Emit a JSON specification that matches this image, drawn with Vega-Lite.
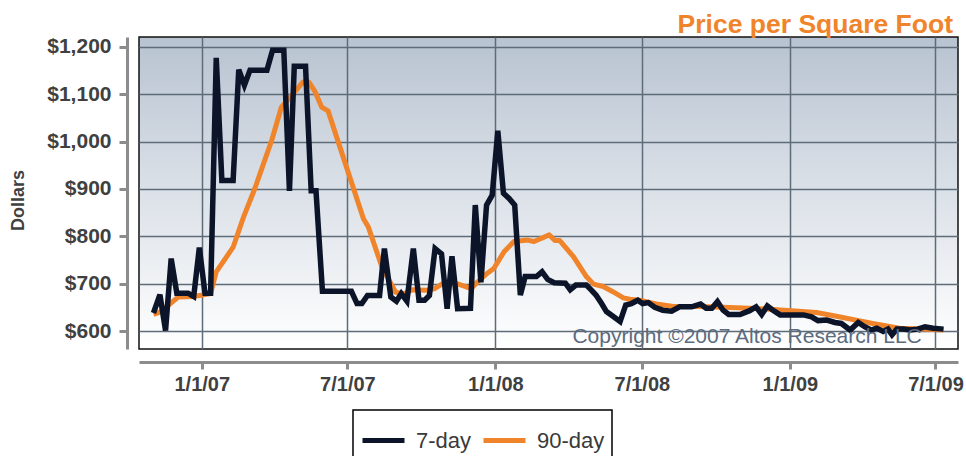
{
  "$schema": "https://vega.github.io/schema/vega-lite/v6.json",
  "width": 819,
  "height": 312,
  "autosize": {"type": "none"},
  "padding": {"left": 139, "top": 37, "right": 8, "bottom": 107},
  "background": "white",
  "title": {"text": "Price per Square Foot", "anchor": "end", "frame": "group", "color": "#f0842a", "font": "Liberation Sans", "fontSize": 26.5, "fontWeight": "bold", "baseline": "bottom", "offset": -30, "dx": -5},
  "data": {"values": [
    {"date": "2006-11-02", "price": 638, "series": "7-day"},
    {"date": "2006-11-10", "price": 677, "series": "7-day"},
    {"date": "2006-11-17", "price": 601, "series": "7-day"},
    {"date": "2006-11-24", "price": 753, "series": "7-day"},
    {"date": "2006-12-01", "price": 680, "series": "7-day"},
    {"date": "2006-12-15", "price": 680, "series": "7-day"},
    {"date": "2006-12-22", "price": 673, "series": "7-day"},
    {"date": "2006-12-29", "price": 776, "series": "7-day"},
    {"date": "2007-01-05", "price": 680, "series": "7-day"},
    {"date": "2007-01-12", "price": 680, "series": "7-day"},
    {"date": "2007-01-19", "price": 1177, "series": "7-day"},
    {"date": "2007-01-26", "price": 918, "series": "7-day"},
    {"date": "2007-02-09", "price": 918, "series": "7-day"},
    {"date": "2007-02-16", "price": 1152, "series": "7-day"},
    {"date": "2007-02-23", "price": 1119, "series": "7-day"},
    {"date": "2007-03-02", "price": 1151, "series": "7-day"},
    {"date": "2007-03-23", "price": 1151, "series": "7-day"},
    {"date": "2007-03-30", "price": 1193, "series": "7-day"},
    {"date": "2007-04-13", "price": 1193, "series": "7-day"},
    {"date": "2007-04-20", "price": 896, "series": "7-day"},
    {"date": "2007-04-26", "price": 1159, "series": "7-day"},
    {"date": "2007-05-10", "price": 1159, "series": "7-day"},
    {"date": "2007-05-17", "price": 896, "series": "7-day"},
    {"date": "2007-05-23", "price": 896, "series": "7-day"},
    {"date": "2007-05-31", "price": 684, "series": "7-day"},
    {"date": "2007-07-06", "price": 684, "series": "7-day"},
    {"date": "2007-07-13", "price": 658, "series": "7-day"},
    {"date": "2007-07-19", "price": 658, "series": "7-day"},
    {"date": "2007-07-26", "price": 675, "series": "7-day"},
    {"date": "2007-08-10", "price": 675, "series": "7-day"},
    {"date": "2007-08-16", "price": 774, "series": "7-day"},
    {"date": "2007-08-24", "price": 672, "series": "7-day"},
    {"date": "2007-08-31", "price": 663, "series": "7-day"},
    {"date": "2007-09-06", "price": 679, "series": "7-day"},
    {"date": "2007-09-13", "price": 663, "series": "7-day"},
    {"date": "2007-09-21", "price": 774, "series": "7-day"},
    {"date": "2007-09-28", "price": 665, "series": "7-day"},
    {"date": "2007-10-05", "price": 665, "series": "7-day"},
    {"date": "2007-10-11", "price": 675, "series": "7-day"},
    {"date": "2007-10-18", "price": 774, "series": "7-day"},
    {"date": "2007-10-26", "price": 763, "series": "7-day"},
    {"date": "2007-11-02", "price": 647, "series": "7-day"},
    {"date": "2007-11-08", "price": 758, "series": "7-day"},
    {"date": "2007-11-15", "price": 647, "series": "7-day"},
    {"date": "2007-12-01", "price": 648, "series": "7-day"},
    {"date": "2007-12-07", "price": 866, "series": "7-day"},
    {"date": "2007-12-14", "price": 703, "series": "7-day"},
    {"date": "2007-12-21", "price": 866, "series": "7-day"},
    {"date": "2007-12-28", "price": 887, "series": "7-day"},
    {"date": "2008-01-04", "price": 1023, "series": "7-day"},
    {"date": "2008-01-11", "price": 891, "series": "7-day"},
    {"date": "2008-01-18", "price": 880, "series": "7-day"},
    {"date": "2008-01-25", "price": 866, "series": "7-day"},
    {"date": "2008-02-01", "price": 676, "series": "7-day"},
    {"date": "2008-02-07", "price": 715, "series": "7-day"},
    {"date": "2008-02-21", "price": 715, "series": "7-day"},
    {"date": "2008-02-28", "price": 725, "series": "7-day"},
    {"date": "2008-03-06", "price": 709, "series": "7-day"},
    {"date": "2008-03-14", "price": 702, "series": "7-day"},
    {"date": "2008-03-28", "price": 701, "series": "7-day"},
    {"date": "2008-04-03", "price": 687, "series": "7-day"},
    {"date": "2008-04-10", "price": 697, "series": "7-day"},
    {"date": "2008-04-23", "price": 697, "series": "7-day"},
    {"date": "2008-04-29", "price": 687, "series": "7-day"},
    {"date": "2008-05-05", "price": 676, "series": "7-day"},
    {"date": "2008-05-12", "price": 658, "series": "7-day"},
    {"date": "2008-05-18", "price": 641, "series": "7-day"},
    {"date": "2008-05-27", "price": 630, "series": "7-day"},
    {"date": "2008-06-04", "price": 620, "series": "7-day"},
    {"date": "2008-06-11", "price": 655, "series": "7-day"},
    {"date": "2008-06-18", "price": 658, "series": "7-day"},
    {"date": "2008-06-26", "price": 665, "series": "7-day"},
    {"date": "2008-07-02", "price": 658, "series": "7-day"},
    {"date": "2008-07-09", "price": 660, "series": "7-day"},
    {"date": "2008-07-17", "price": 650, "series": "7-day"},
    {"date": "2008-07-27", "price": 644, "series": "7-day"},
    {"date": "2008-08-07", "price": 642, "series": "7-day"},
    {"date": "2008-08-17", "price": 651, "series": "7-day"},
    {"date": "2008-09-01", "price": 651, "series": "7-day"},
    {"date": "2008-09-12", "price": 657, "series": "7-day"},
    {"date": "2008-09-19", "price": 648, "series": "7-day"},
    {"date": "2008-09-26", "price": 648, "series": "7-day"},
    {"date": "2008-10-03", "price": 662, "series": "7-day"},
    {"date": "2008-10-10", "price": 644, "series": "7-day"},
    {"date": "2008-10-17", "price": 635, "series": "7-day"},
    {"date": "2008-10-31", "price": 635, "series": "7-day"},
    {"date": "2008-11-12", "price": 643, "series": "7-day"},
    {"date": "2008-11-20", "price": 651, "series": "7-day"},
    {"date": "2008-11-27", "price": 635, "series": "7-day"},
    {"date": "2008-12-04", "price": 653, "series": "7-day"},
    {"date": "2008-12-11", "price": 644, "series": "7-day"},
    {"date": "2008-12-20", "price": 634, "series": "7-day"},
    {"date": "2009-01-03", "price": 634, "series": "7-day"},
    {"date": "2009-01-18", "price": 634, "series": "7-day"},
    {"date": "2009-01-28", "price": 630, "series": "7-day"},
    {"date": "2009-02-05", "price": 622, "series": "7-day"},
    {"date": "2009-02-16", "price": 623, "series": "7-day"},
    {"date": "2009-02-26", "price": 618, "series": "7-day"},
    {"date": "2009-03-06", "price": 616, "series": "7-day"},
    {"date": "2009-03-17", "price": 602, "series": "7-day"},
    {"date": "2009-03-27", "price": 618, "series": "7-day"},
    {"date": "2009-04-04", "price": 609, "series": "7-day"},
    {"date": "2009-04-12", "price": 602, "series": "7-day"},
    {"date": "2009-04-19", "price": 606, "series": "7-day"},
    {"date": "2009-04-27", "price": 599, "series": "7-day"},
    {"date": "2009-05-03", "price": 604, "series": "7-day"},
    {"date": "2009-05-08", "price": 592, "series": "7-day"},
    {"date": "2009-05-14", "price": 604, "series": "7-day"},
    {"date": "2009-05-22", "price": 604, "series": "7-day"},
    {"date": "2009-05-30", "price": 602, "series": "7-day"},
    {"date": "2009-06-09", "price": 604, "series": "7-day"},
    {"date": "2009-06-18", "price": 609, "series": "7-day"},
    {"date": "2009-06-28", "price": 606, "series": "7-day"},
    {"date": "2009-07-11", "price": 604, "series": "7-day"},
    {"date": "2006-11-02", "price": 635, "series": "90-day"},
    {"date": "2006-11-10", "price": 640, "series": "90-day"},
    {"date": "2006-11-23", "price": 658, "series": "90-day"},
    {"date": "2006-12-03", "price": 672, "series": "90-day"},
    {"date": "2006-12-22", "price": 673, "series": "90-day"},
    {"date": "2007-01-12", "price": 679, "series": "90-day"},
    {"date": "2007-01-19", "price": 725, "series": "90-day"},
    {"date": "2007-02-09", "price": 777, "series": "90-day"},
    {"date": "2007-02-22", "price": 841, "series": "90-day"},
    {"date": "2007-03-08", "price": 901, "series": "90-day"},
    {"date": "2007-03-29", "price": 1003, "series": "90-day"},
    {"date": "2007-04-10", "price": 1073, "series": "90-day"},
    {"date": "2007-04-21", "price": 1094, "series": "90-day"},
    {"date": "2007-05-07", "price": 1126, "series": "90-day"},
    {"date": "2007-05-14", "price": 1126, "series": "90-day"},
    {"date": "2007-05-22", "price": 1105, "series": "90-day"},
    {"date": "2007-05-30", "price": 1073, "series": "90-day"},
    {"date": "2007-06-07", "price": 1065, "series": "90-day"},
    {"date": "2007-07-04", "price": 925, "series": "90-day"},
    {"date": "2007-07-21", "price": 837, "series": "90-day"},
    {"date": "2007-07-27", "price": 820, "series": "90-day"},
    {"date": "2007-08-13", "price": 735, "series": "90-day"},
    {"date": "2007-08-30", "price": 682, "series": "90-day"},
    {"date": "2007-09-10", "price": 679, "series": "90-day"},
    {"date": "2007-09-20", "price": 687, "series": "90-day"},
    {"date": "2007-10-07", "price": 686, "series": "90-day"},
    {"date": "2007-10-17", "price": 689, "series": "90-day"},
    {"date": "2007-10-30", "price": 703, "series": "90-day"},
    {"date": "2007-11-14", "price": 700, "series": "90-day"},
    {"date": "2007-11-26", "price": 693, "series": "90-day"},
    {"date": "2007-12-02", "price": 690, "series": "90-day"},
    {"date": "2007-12-10", "price": 704, "series": "90-day"},
    {"date": "2007-12-22", "price": 722, "series": "90-day"},
    {"date": "2007-12-30", "price": 732, "series": "90-day"},
    {"date": "2008-01-12", "price": 768, "series": "90-day"},
    {"date": "2008-01-24", "price": 789, "series": "90-day"},
    {"date": "2008-02-10", "price": 792, "series": "90-day"},
    {"date": "2008-02-18", "price": 789, "series": "90-day"},
    {"date": "2008-03-08", "price": 803, "series": "90-day"},
    {"date": "2008-03-15", "price": 791, "series": "90-day"},
    {"date": "2008-03-21", "price": 791, "series": "90-day"},
    {"date": "2008-04-07", "price": 757, "series": "90-day"},
    {"date": "2008-04-23", "price": 715, "series": "90-day"},
    {"date": "2008-05-02", "price": 699, "series": "90-day"},
    {"date": "2008-05-14", "price": 694, "series": "90-day"},
    {"date": "2008-05-26", "price": 683, "series": "90-day"},
    {"date": "2008-06-08", "price": 670, "series": "90-day"},
    {"date": "2008-06-16", "price": 667, "series": "90-day"},
    {"date": "2008-06-28", "price": 665, "series": "90-day"},
    {"date": "2008-07-19", "price": 657, "series": "90-day"},
    {"date": "2008-08-09", "price": 652, "series": "90-day"},
    {"date": "2008-09-10", "price": 652, "series": "90-day"},
    {"date": "2008-10-10", "price": 650, "series": "90-day"},
    {"date": "2008-11-12", "price": 648, "series": "90-day"},
    {"date": "2008-12-07", "price": 646, "series": "90-day"},
    {"date": "2009-01-03", "price": 643, "series": "90-day"},
    {"date": "2009-02-03", "price": 639, "series": "90-day"},
    {"date": "2009-03-03", "price": 630, "series": "90-day"},
    {"date": "2009-04-14", "price": 616, "series": "90-day"},
    {"date": "2009-05-17", "price": 606, "series": "90-day"},
    {"date": "2009-06-16", "price": 604, "series": "90-day"},
    {"date": "2009-07-11", "price": 602, "series": "90-day"}
  ]},
  "encoding": {
    "x": {
      "field": "date", "type": "temporal",
      "scale": {"type": "utc", "domain": [{"year": 2006, "month": 10, "date": 15, "utc": true}, {"year": 2009, "month": 7, "date": 29, "utc": true}]},
      "axis": {
        "title": null,
        "values": [
          {"year": 2007, "month": 1, "date": 1, "utc": true},
          {"year": 2007, "month": 7, "date": 1, "utc": true},
          {"year": 2008, "month": 1, "date": 1, "utc": true},
          {"year": 2008, "month": 7, "date": 1, "utc": true},
          {"year": 2009, "month": 1, "date": 1, "utc": true},
          {"year": 2009, "month": 7, "date": 1, "utc": true}
        ],
        "format": "%-m/%-d/%y",
        "offset": 13,
        "tickSize": 7,
        "labelPadding": 5
      }
    },
    "y": {
      "field": "price", "type": "quantitative",
      "scale": {"domain": [562, 1221], "nice": false, "zero": false},
      "axis": {
        "title": "Dollars",
        "values": [600, 700, 800, 900, 1000, 1100, 1200],
        "format": "$,.0f",
        "offset": 12,
        "tickSize": 8,
        "labelPadding": 8,
        "labelFontSize": 21,
        "titlePadding": 19,
        "titleY": 163,
        "titleFontSize": 18,
        "titleFontWeight": "bold",
        "titleColor": "#404040"
      }
    },
    "color": {
      "field": "series", "type": "nominal",
      "scale": {"domain": ["7-day", "90-day"], "range": ["#0b1429", "#f0842a"]},
      "legend": {"title": null}
    }
  },
  "layer": [
    {
      "transform": [{"filter": "datum.series === '90-day'"}],
      "mark": {"type": "line", "strokeWidth": 5, "strokeJoin": "round"}
    },
    {
      "transform": [{"filter": "datum.series === '7-day'"}],
      "mark": {"type": "line", "strokeWidth": 5.5, "strokeJoin": "miter"}
    },
    {
      "transform": [{"filter": "datum.series === '7-day' && datum.price === 1023"}],
      "mark": {"type": "text", "text": "Copyright ©2007 Altos Research LLC", "align": "right", "baseline": "alphabetic", "fontSize": 21, "font": "Liberation Sans", "color": "#5b6a7d"},
      "encoding": {
        "x": {"datum": {"year": 2009, "month": 6, "date": 14, "utc": true}, "type": "temporal"},
        "y": {"datum": 575, "type": "quantitative"},
        "color": null
      }
    }
  ],
  "config": {
    "font": "Liberation Sans",
    "view": {
      "stroke": "#111111",
      "strokeWidth": 1.5,
      "fill": {"gradient": "linear", "x1": 0, "y1": 0, "x2": 0, "y2": 1, "stops": [{"offset": 0, "color": "#b8c3d1"}, {"offset": 1, "color": "#ffffff"}]}
    },
    "axis": {
      "grid": true,
      "gridColor": "#5e6c7a",
      "gridWidth": 1.5,
      "gridOpacity": 1,
      "domainColor": "#8c8c8c",
      "domainWidth": 3,
      "tickColor": "#8c8c8c",
      "tickWidth": 3,
      "labelFont": "Liberation Sans",
      "labelFontSize": 20,
      "labelFontWeight": "bold",
      "labelColor": "#404040",
      "titleFont": "Liberation Sans"
    },
    "legend": {
      "orient": "none",
      "legendX": 214,
      "legendY": 373,
      "direction": "horizontal",
      "gridAlign": "none",
      "symbolType": "stroke",
      "symbolSize": 1764,
      "symbolStrokeWidth": 5,
      "labelFont": "Liberation Sans",
      "labelFontSize": 22,
      "labelColor": "#3a3a3a",
      "labelOffset": 9,
      "columnPadding": 1,
      "padding": 7,
      "strokeColor": "#000000",
      "strokeWidth": 1.5,
      "fillColor": "#ffffff"
    }
  }
}
